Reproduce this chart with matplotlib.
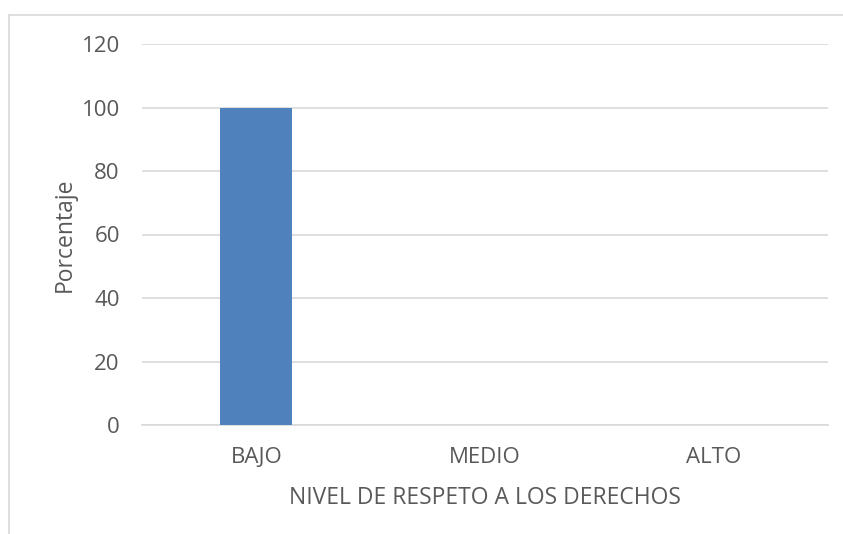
import matplotlib
matplotlib.use("Agg")
import matplotlib.pyplot as plt
from matplotlib.lines import Line2D

categories = ["BAJO", "MEDIO", "ALTO"]
porcentaje = [100, 0, 0]
y_ticks = [0, 20, 40, 60, 80, 100, 120]

GRID = "#D9D9D9"
TEXT = "#595959"
BAR = "#4F81BD"
W, H = 843, 534

plt.rcParams["font.family"] = ["Open Sans", "DejaVu Sans"]

fig = plt.figure(figsize=(W / 100, H / 100), dpi=100)
ax = fig.add_axes([142 / W, (H - 425) / H, (828 - 142) / W, (425 - 44) / H])

x = range(len(categories))
ax.bar(x, porcentaje, width=0.315, color=BAR, zorder=3)

ax.set_xlim(-0.5, len(categories) - 0.5)
ax.set_ylim(0, 120)
ax.set_yticks(y_ticks)
ax.yaxis.grid(True, color=GRID, lw=1.2)
ax.set_axisbelow(True)
for s in ["top", "right", "left"]:
    ax.spines[s].set_visible(False)
ax.spines["bottom"].set_color(GRID)
ax.spines["bottom"].set_linewidth(1.2)
ax.tick_params(length=0, labelsize=16, colors=TEXT)
ax.tick_params(axis="y", pad=16)
ax.tick_params(axis="x", pad=15.5)
ax.set_xticks(list(x))
ax.set_xticklabels(categories)

ax.set_xlabel("NIVEL DE RESPETO A LOS DERECHOS", fontsize=16.5, color=TEXT, labelpad=13.5)
ax.set_ylabel("Porcentaje", fontsize=16.5, color=TEXT, labelpad=3.5)

# chart frame (only top and left edges are visible in the crop)
fig.add_artist(Line2D([9 / W, 9 / W], [0, 1 - 15 / H], color=GRID, lw=1.2))
fig.add_artist(Line2D([9 / W, 1], [1 - 15 / H, 1 - 15 / H], color=GRID, lw=1.2))

fig.savefig("out.png", dpi=100)
